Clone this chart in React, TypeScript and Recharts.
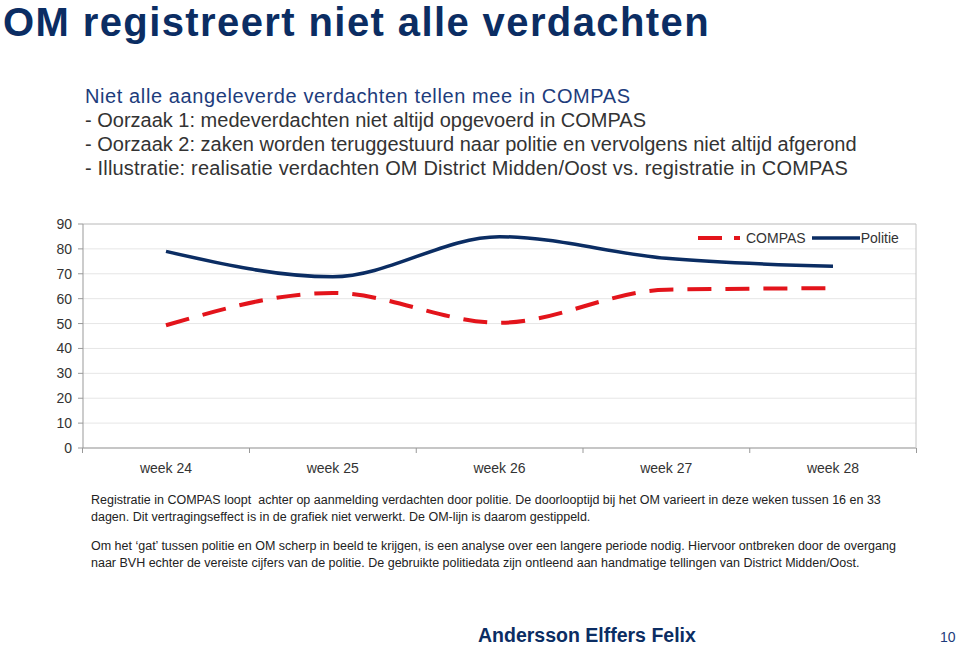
import { LineChart, Line, XAxis, YAxis, CartesianGrid, ReferenceLine } from 'recharts';

const weeks = ['week 24', 'week 25', 'week 26', 'week 27', 'week 28'];
const compas = [49.3, 62.3, 50.3, 63.6, 64.2];
const politie = [79, 68.8, 84.9, 76.2, 73];
const yTicks = [0, 10, 20, 30, 40, 50, 60, 70, 80, 90];

const data = weeks.map((w, i) => ({ week: w, compas: compas[i], politie: politie[i] }));

const NAVY = '#0b2d63';
const RED = '#e3141b';
const FONT = '"Liberation Sans", Arial, sans-serif';

const CHART_W = 960;
const PAD = 83;
const BAND = (CHART_W - 43 - 83 - 2 * PAD) / (weeks.length - 1);

const WeekTick = ({ x, y, payload, index }: { x?: number; y?: number; payload?: { value: string }; index?: number }) => {
    const cx = x ?? 0;
    const cy = y ?? 0;
    return (
        <g>
            {index === 0 && <line x1={cx - BAND / 2} x2={cx - BAND / 2} y1={cy - 8} y2={cy - 3} stroke="#999" />}
            <line x1={cx + BAND / 2} x2={cx + BAND / 2} y1={cy - 8} y2={cy - 3} stroke="#999" />
            <text x={cx} y={cy + 17} textAnchor="middle" fill="#333" fontSize={14} fontFamily={FONT}>
                {payload?.value}
            </text>
        </g>
    );
};

// legende staat binnen het plotvlak, rechtsboven
const LegendBox = () => (
    <div style={{ position: 'absolute', left: 698, top: 229, display: 'flex', alignItems: 'center', fontFamily: FONT, fontSize: 14, color: '#333', lineHeight: '18px' }}>
        <svg width={42} height={10}>
            <line x1={0} x2={42} y1={5} y2={5} stroke={RED} strokeWidth={4} strokeDasharray="24 12" />
        </svg>
        <span style={{ marginLeft: 6, marginRight: 6 }}>COMPAS</span>
        <svg width={48} height={10}>
            <line x1={0} x2={48} y1={5} y2={5} stroke={NAVY} strokeWidth={3.5} />
        </svg>
        <span style={{ marginLeft: 1 }}>Politie</span>
    </div>
);

export default function App() {
    return (
        <div style={{ position: 'absolute', left: 0, top: 0, width: 960, height: 645, background: '#fff', fontFamily: FONT, overflow: 'hidden' }}>
            <div style={{ position: 'absolute', left: 3, top: 0, fontSize: 40, lineHeight: '44px', fontWeight: 'bold', color: NAVY, letterSpacing: 1.4 }}>
                OM registreert niet alle verdachten
            </div>

            <div style={{ position: 'absolute', left: 85, top: 84, fontSize: 20, lineHeight: '24px', color: '#333' }}>
                <div style={{ color: '#1d3c7c', letterSpacing: 0.6 }}>Niet alle aangeleverde verdachten tellen mee in COMPAS</div>
                <div>- Oorzaak 1: medeverdachten niet altijd opgevoerd in COMPAS</div>
                <div>- Oorzaak 2: zaken worden teruggestuurd naar politie en vervolgens niet altijd afgerond</div>
                <div style={{ letterSpacing: 0.18 }}>- Illustratie: realisatie verdachten OM District Midden/Oost vs. registratie in COMPAS</div>
            </div>

            <div style={{ position: 'absolute', left: 0, top: 200 }}>
                <LineChart width={CHART_W} height={290} data={data} margin={{ top: 24, right: 43, left: 43, bottom: 12 }}>
                    <CartesianGrid horizontal vertical={false} stroke="#e6e6e6" />
                    <XAxis
                        dataKey="week"
                        padding={{ left: PAD, right: PAD }}
                        tickLine={false}
                        axisLine={{ stroke: '#999' }}
                        tick={<WeekTick />}
                        interval={0}
                        height={30}
                    />
                    <YAxis
                        domain={[0, 90]}
                        ticks={yTicks}
                        width={40}
                        tickSize={5}
                        tickMargin={6}
                        tickLine={{ stroke: '#999' }}
                        axisLine={{ stroke: '#999' }}
                        tick={{ fontSize: 14, fill: '#333', fontFamily: FONT }}
                        interval={0}
                    />
                    <YAxis yAxisId="r" orientation="right" domain={[0, 90]} width={1} tick={false} tickLine={false} axisLine={{ stroke: '#c4c4c4' }} />
                    <ReferenceLine y={90} stroke="#c4c4c4" />
                    <Line
                        type="monotone"
                        dataKey="compas"
                        name="COMPAS"
                        stroke={RED}
                        strokeWidth={4}
                        strokeDasharray="24 14"
                        dot={false}
                        isAnimationActive={false}
                    />
                    <Line
                        type="monotone"
                        dataKey="politie"
                        name="Politie"
                        stroke={NAVY}
                        strokeWidth={3.5}
                        dot={false}
                        isAnimationActive={false}
                    />
                </LineChart>
            </div>
            <LegendBox />

            <div style={{ position: 'absolute', left: 91, top: 492, fontSize: 12.5, lineHeight: '17px', color: '#222', width: 850 }}>
                <div>Registratie in COMPAS loopt&nbsp; achter op aanmelding verdachten door politie. De doorlooptijd bij het OM varieert in deze weken tussen 16 en 33</div>
                <div>dagen. Dit vertragingseffect is in de grafiek niet verwerkt. De OM-lijn is daarom gestippeld.</div>
                <div style={{ height: 12 }} />
                <div>Om het ‘gat’ tussen politie en OM scherp in beeld te krijgen, is een analyse over een langere periode nodig. Hiervoor ontbreken door de overgang</div>
                <div>naar BVH echter de vereiste cijfers van de politie. De gebruikte politiedata zijn ontleend aan handmatige tellingen van District Midden/Oost.</div>
            </div>

            <div style={{ position: 'absolute', left: 478, top: 625, fontSize: 19.5, lineHeight: '20px', fontWeight: 'bold', color: NAVY }}>
                Andersson Elffers Felix
            </div>
            <div style={{ position: 'absolute', left: 940, top: 630, fontSize: 14, lineHeight: '14px', color: '#1d3c7c' }}>10</div>
        </div>
    );
}
